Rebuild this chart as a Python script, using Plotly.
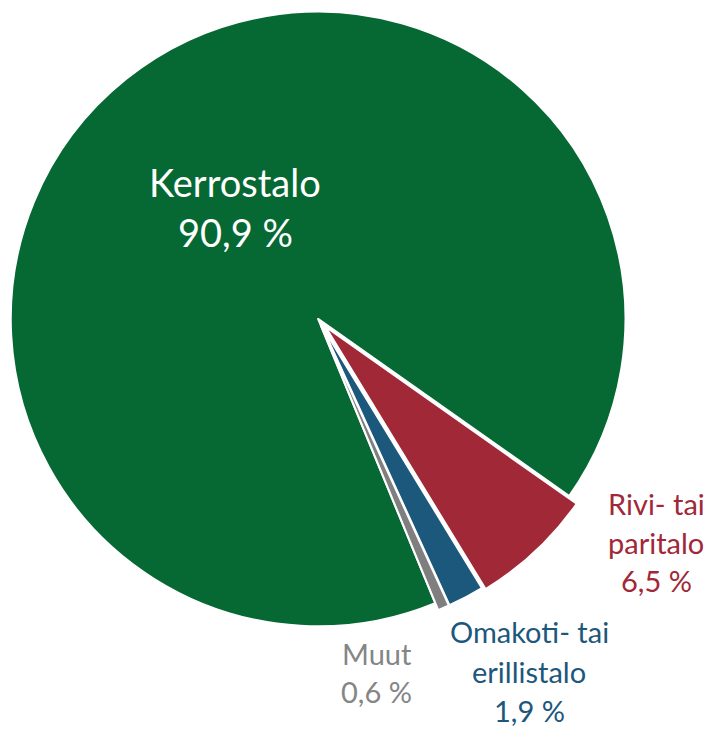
import plotly.graph_objects as go

# Asuntokanta talotyypeittäin (%)
CATEGORIES = ["Kerrostalo", "Rivi- tai paritalo", "Omakoti- tai erillistalo", "Muut"]
SHARES = [90.9, 6.5, 1.9, 0.6]
LABEL_LINES = [["Kerrostalo"], ["Rivi- tai", "paritalo"], ["Omakoti- tai", "erillistalo"], ["Muut"]]

COLORS = ["#066833", "#a12837", "#1c577c", "#7f7f7f"]
TEXT_COLORS = ["white", "#a12837", "#1c577c", "#858585"]
PULLS = [0, 0.035, 0.025, 0.025]
FONT = "Lato, 'Open Sans', sans-serif"
W, H = 710, 729

# label blocks: centre x, first baseline y, line gap, font size (px)
LABEL_POS = [
    (235, 197, 50, 38),
    (656, 515, 38.5, 29),
    (529, 643, 39.5, 29),
    (377, 665, 38, 29),
]


def pct(v):
    """90.9 -> '90,9 %' (suomalainen desimaalipilkku)"""
    return f"{v:.1f}".replace(".", ",") + " %"


fig = go.Figure(go.Pie(
    labels=CATEGORIES, values=SHARES,
    sort=False, direction="clockwise", rotation=157.6,
    pull=PULLS,
    marker=dict(colors=COLORS, line=dict(color="white", width=2)),
    textinfo="none",
    hovertemplate="%{label}: %{value:.1f} %<extra></extra>",
    domain=dict(x=[0, 0.896], y=[0.125, 1.0]),
    showlegend=False,
))

# tekstit erillisinä riveinä, jotta riviväli vastaa alkuperäistä
for lines, v, color, (cx, base, gap, size) in zip(LABEL_LINES, SHARES, TEXT_COLORS, LABEL_POS):
    for i, txt in enumerate(lines + [pct(v)]):
        y_mid = base + i * gap - 0.387 * size
        fig.add_annotation(
            x=cx / W, y=1 - y_mid / H, xref="paper", yref="paper",
            text=txt, showarrow=False, xanchor="center", yanchor="middle",
            font=dict(family=FONT, size=size, color=color),
        )

fig.update_layout(
    width=W, height=H,
    margin=dict(l=0, r=0, t=0, b=0),
    paper_bgcolor="white", plot_bgcolor="white",
    font=dict(family=FONT),
)
# sivun oletusmarginaali pois, ettei kuva siirry 8 px
fig.write_html(
    "out.html",
    config={"displayModeBar": False},
    post_script="document.body.style.margin='0';document.body.style.overflow='hidden';",
)
